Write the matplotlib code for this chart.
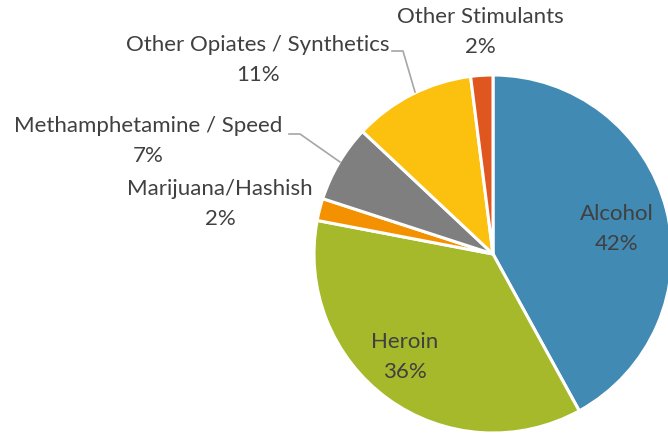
import matplotlib.pyplot as plt
import numpy as np

# data
labels = ["Alcohol", "Heroin", "Marijuana/Hashish", "Methamphetamine / Speed",
          "Other Opiates / Synthetics", "Other Stimulants"]
shares = [42, 36, 2, 7, 11, 2]
colors = ["#418ab3", "#a6b92a", "#f49100", "#7f7f7f", "#fcc00f", "#e0561f"]

# label centres in pixel coords (x, y from top)
label_pos = [(617, 229), (405, 357), (220, 204), (148, 141), (258, 60), (480, 32)]
# leader lines (pixel coords) for the outside labels
leaders = {
    3: [(289, 135), (300, 135), (340, 163)],
    4: [(392, 52), (403, 52), (415, 93)],
}

W, H = 668, 435
fig = plt.figure(figsize=(W / 100, H / 100), dpi=100)
ax = fig.add_axes([0, 0, 1, 1])

ax.pie(shares, colors=colors, startangle=90, counterclock=False,
       center=(493, H - 255), radius=179, frame=True,
       wedgeprops=dict(edgecolor='white', linewidth=2.2))
ax.set_xlim(0, W)
ax.set_ylim(0, H)
ax.set_aspect('equal')
ax.axis('off')

for i, (lab, val) in enumerate(zip(labels, shares)):
    x, y = label_pos[i]
    ax.text(x, H - y, f"{lab}\n{val}%", ha='center', va='center',
            fontsize=16, family=['Lato', 'DejaVu Sans'], color='#404040',
            linespacing=1.58)

for i, pts in leaders.items():
    xs = [p[0] for p in pts]
    ys = [H - p[1] for p in pts]
    ax.plot(xs, ys, color='#a6a6a6', lw=1.2)

fig.savefig("out.png", dpi=100)
